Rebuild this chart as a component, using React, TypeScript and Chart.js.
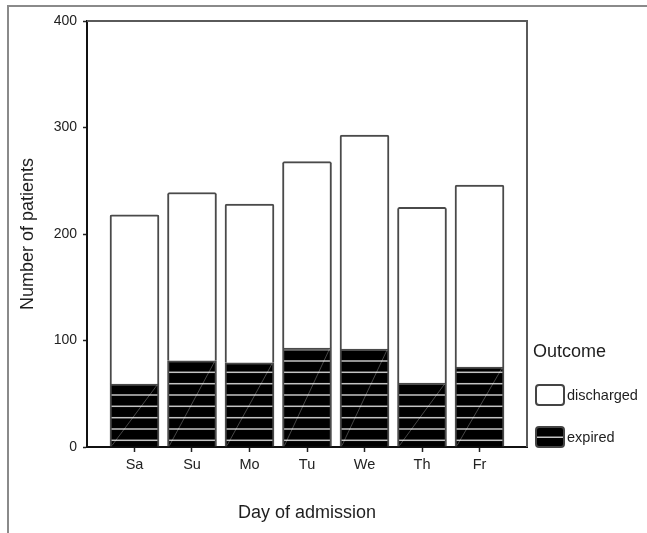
import React, { useEffect, useRef } from 'react';
import { Chart, registerables } from 'chart.js';

Chart.register(...registerables);

// ---- data ----
const days = ['Sa', 'Su', 'Mo', 'Tu', 'We', 'Th', 'Fr'];
const expired = [59, 81, 79, 93, 92, 60, 75];
const discharged = [159, 158, 149, 175, 201, 165, 171];
const yTicks = [0, 100, 200, 300, 400];
const seriesLabels = ['discharged', 'expired'];
const legendTitle = 'Outcome';
const xTitle = 'Day of admission';
const yTitle = 'Number of patients';

const FONT = 'Arial, "Liberation Sans", sans-serif';

function makeStripePattern(ctx: CanvasRenderingContext2D) {
  const c = document.createElement('canvas');
  c.width = 8;
  c.height = 34;
  const g = c.getContext('2d')!;
  g.fillStyle = '#000';
  g.fillRect(0, 0, 8, 34);
  g.fillStyle = '#c4c4c4';
  [9.7, 21, 32.3].forEach((y) => g.fillRect(0, y - 0.75, 8, 1.5));
  return ctx.createPattern(c, 'repeat')!;
}

const framePlugin = {
  id: 'plotFrame',
  afterDatasetsDraw(chart: any) {
    const { ctx, chartArea: a } = chart;
    ctx.save();
    // faint diagonals in expired bars
    const meta = chart.getDatasetMeta(0);
    ctx.strokeStyle = 'rgba(255,255,255,0.28)';
    ctx.lineWidth = 1;
    meta.data.forEach((bar: any) => {
      const { x, y, base, width } = bar.getProps(['x', 'y', 'base', 'width'], true);
      ctx.beginPath();
      ctx.moveTo(x - width / 2 + 2, base - 1);
      ctx.lineTo(x + width / 2 - 2, y + 1);
      ctx.stroke();
    });
    // frame (top + right)
    ctx.strokeStyle = '#5a5a5a';
    ctx.lineWidth = 2;
    ctx.beginPath();
    ctx.moveTo(a.left, a.top);
    ctx.lineTo(a.right, a.top);
    ctx.lineTo(a.right, a.bottom);
    ctx.stroke();
    ctx.restore();
  },
};

function roundRect(ctx: CanvasRenderingContext2D, x: number, y: number, w: number, h: number, r: number) {
  ctx.beginPath();
  ctx.moveTo(x + r, y);
  ctx.lineTo(x + w - r, y);
  ctx.quadraticCurveTo(x + w, y, x + w, y + r);
  ctx.lineTo(x + w, y + h - r);
  ctx.quadraticCurveTo(x + w, y + h, x + w - r, y + h);
  ctx.lineTo(x + r, y + h);
  ctx.quadraticCurveTo(x, y + h, x, y + h - r);
  ctx.lineTo(x, y + r);
  ctx.quadraticCurveTo(x, y, x + r, y);
  ctx.closePath();
}

const legendPlugin = {
  id: 'outcomeLegend',
  afterDraw(chart: any) {
    const { ctx, chartArea: a } = chart;
    const x0 = a.right + 9;
    ctx.save();
    ctx.fillStyle = '#1e1e1e';
    ctx.font = `18px ${FONT}`;
    ctx.textBaseline = 'alphabetic';
    ctx.textAlign = 'left';
    ctx.fillText(legendTitle, a.right + 6, a.bottom - 90);
    const boxTops = [a.bottom - 62, a.bottom - 20];
    seriesLabels.forEach((label, i) => {
      const top = boxTops[i];
      roundRect(ctx, x0, top, 28, 20, 3);
      ctx.fillStyle = i === 0 ? '#ffffff' : '#000000';
      ctx.fill();
      if (i === 1) {
        ctx.fillStyle = '#c4c4c4';
        ctx.fillRect(x0 + 1, top + 9.5, 26, 1.5);
      }
      ctx.strokeStyle = '#444';
      ctx.lineWidth = 2;
      roundRect(ctx, x0, top, 28, 20, 3);
      ctx.stroke();
      ctx.fillStyle = '#1e1e1e';
      ctx.font = `14.5px ${FONT}`;
      ctx.textBaseline = 'middle';
      ctx.fillText(label, x0 + 31, top + 11);
    });
    ctx.restore();
  },
};

export default function App() {
  const ref = useRef<HTMLCanvasElement>(null);

  useEffect(() => {
    const canvas = ref.current!;
    const ctx = canvas.getContext('2d')!;
    const stripes = makeStripePattern(ctx);

    const chart = new Chart(ctx, {
      type: 'bar',
      data: {
        datasets: [
          {
            label: seriesLabels[1],
            data: expired.map((v, i) => ({ x: i, y: v })),
            backgroundColor: stripes as any,
            borderColor: '#4a4a4a',
            borderWidth: 2,
            barThickness: 49,
          },
          {
            label: seriesLabels[0],
            data: discharged.map((v, i) => ({ x: i, y: v })),
            backgroundColor: '#ffffff',
            borderColor: '#4a4a4a',
            borderWidth: 2,
            borderRadius: { topLeft: 2, topRight: 2, bottomLeft: 0, bottomRight: 0 },
            barThickness: 49,
          },
        ],
      },
      options: {
        responsive: false,
        animation: false,
        layout: { padding: { top: 21, right: 120, bottom: 0, left: 0 } },
        plugins: {
          legend: { display: false },
          tooltip: { enabled: false },
        },
        scales: {
          x: {
            type: 'linear',
            stacked: true,
            offset: false,
            min: -0.826,
            max: 6.826,
            afterFit: (s: any) => {
              s.height = 86;
            },
            ticks: {
              stepSize: 1,
              includeBounds: false,
              autoSkip: false,
              padding: 4,
              color: '#222',
              font: { family: FONT, size: 14.5 },
              callback: (v: any) => days[v as number] ?? '',
            },
            grid: {
              display: true,
              offset: false,
              drawOnChartArea: false,
              drawTicks: true,
              tickLength: 5,
              tickColor: '#222',
              tickWidth: 1.5,
            },
            border: { display: true, color: '#111', width: 2 },
            title: {
              display: true,
              text: xTitle,
              color: '#1e1e1e',
              font: { family: FONT, size: 18 },
              padding: { top: 0, bottom: 9 },
            },
          },
          y: {
            type: 'linear',
            stacked: true,
            min: yTicks[0],
            max: yTicks[yTicks.length - 1],
            afterFit: (s: any) => {
              s.width = 87;
            },
            afterBuildTicks: (s: any) => {
              s.ticks = yTicks.map((v) => ({ value: v }));
            },
            ticks: {
              padding: 6,
              color: '#222',
              font: { family: FONT, size: 14 },
            },
            grid: {
              display: true,
              drawOnChartArea: false,
              drawTicks: true,
              tickLength: 4,
              tickColor: '#222',
              tickWidth: 1.5,
            },
            border: { display: true, color: '#111', width: 2 },
            title: {
              display: true,
              text: yTitle,
              color: '#1e1e1e',
              font: { family: FONT, size: 18 },
              padding: { top: 17, bottom: 0 },
            },
          },
        },
      },
      plugins: [framePlugin, legendPlugin],
    });

    return () => chart.destroy();
  }, []);

  return (
    <div style={{ position: 'absolute', left: 0, top: 0, width: 647, height: 533, background: '#fff' }}>
      <div
        style={{
          position: 'absolute',
          left: 7,
          top: 5,
          right: 0,
          bottom: 0,
          borderTop: '2px solid #8a8a8a',
          borderLeft: '2px solid #8a8a8a',
        }}
      />
      <canvas ref={ref} width={647} height={533} style={{ position: 'absolute', left: 0, top: 0 }} />
    </div>
  );
}
